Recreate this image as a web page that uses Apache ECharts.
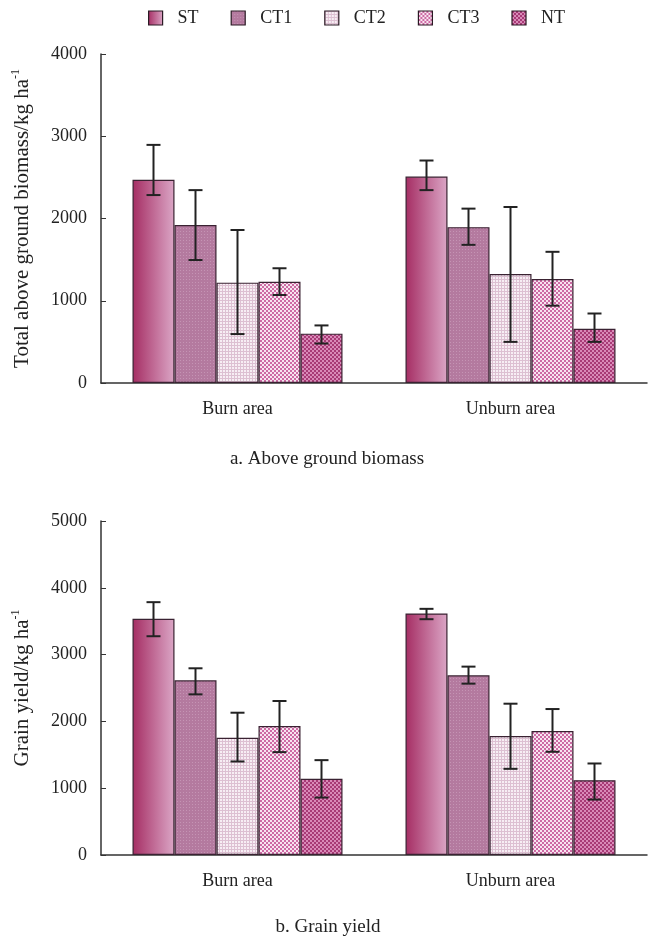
<!DOCTYPE html>
<html>
<head>
<meta charset="utf-8">
<script src="https://cdn.jsdelivr.net/npm/echarts@6/dist/echarts.min.js"></script>
<style>
  html, body { margin: 0; padding: 0; background: #fff; }
  #chart { width: 648px; height: 937px; }
</style>
</head>
<body>
<div id="chart"></div>
<script>
const categories = ['Burn area', 'Unburn area'];
const treatments = ['ST', 'CT1', 'CT2', 'CT3', 'NT'];

// a. above ground biomass, one row per treatment: [burn, unburn]
const bioMean = [[2470, 2510], [1920, 1895], [1220, 1325], [1230, 1265], [600, 660]];
const bioHigh = [[2895, 2705], [2345, 2120], [1860, 2140], [1395, 1595], [700, 845]];
const bioLow  = [[2285, 2345], [1495, 1680], [595, 500], [1070, 940], [480, 500]];

// b. grain yield
const grainMean = [[3535, 3615], [2615, 2690], [1755, 1780], [1930, 1855], [1140, 1120]];
const grainHigh = [[3785, 3685], [2795, 2820], [2130, 2265], [2305, 2185], [1420, 1370]];
const grainLow  = [[3275, 3530], [2405, 2565], [1400, 1290], [1540, 1545], [860, 830]];

const bioTicks = [0, 1000, 2000, 3000, 4000];
const grainTicks = [0, 1000, 2000, 3000, 4000, 5000];

const BAR_W = 42;
const FONT = '"Liberation Serif", "DejaVu Serif", serif';
const INK = '#222';

function pattern(size, draw) {
  const c = document.createElement('canvas');
  c.width = size; c.height = size;
  const g = c.getContext('2d');
  draw(g);
  return { image: c, repeat: 'repeat' };
}

const fills = [
  new echarts.graphic.LinearGradient(0, 0, 1, 0, [
    { offset: 0, color: '#a52d63' },
    { offset: 1, color: '#dba6c6' }
  ]),
  pattern(3, g => {
    g.fillStyle = '#b47a9f'; g.fillRect(0, 0, 3, 3);
    g.fillStyle = '#c594b4'; g.fillRect(0, 0, 1, 1);
  }),
  pattern(3, g => {
    g.fillStyle = '#f7eef4'; g.fillRect(0, 0, 3, 3);
    g.fillStyle = '#ddc0d2'; g.fillRect(0, 0, 3, 1); g.fillRect(0, 0, 1, 3);
  }),
  pattern(4, g => {
    g.fillStyle = '#f8e4f0'; g.fillRect(0, 0, 4, 4);
    g.fillStyle = '#cd6aa4'; g.fillRect(0, 0, 2, 2); g.fillRect(2, 2, 2, 2);
  }),
  pattern(4, g => {
    g.fillStyle = '#d98ab8'; g.fillRect(0, 0, 4, 4);
    g.fillStyle = '#a83a76'; g.fillRect(0, 0, 2, 2); g.fillRect(2, 2, 2, 2);
  })
];

function barSeries(means, gridIdx) {
  return treatments.map((name, i) => ({
    name: name,
    type: 'bar',
    xAxisIndex: gridIdx,
    yAxisIndex: gridIdx,
    barWidth: BAR_W,
    barGap: '0%',
    itemStyle: { color: fills[i], borderColor: '#3a2232', borderWidth: 1.2 },
    emphasis: { disabled: true },
    data: means[i]
  }));
}

function errorSeries(lows, highs, gridIdx) {
  const data = [];
  treatments.forEach((t, i) => {
    categories.forEach((c, j) => data.push([j, lows[i][j], highs[i][j], i]));
  });
  return {
    type: 'custom',
    xAxisIndex: gridIdx,
    yAxisIndex: gridIdx,
    z: 10,
    silent: true,
    encode: { x: 0, y: [1, 2] },
    renderItem: function (params, api) {
      const off = (api.value(3) - 2) * BAR_W;
      const lo = api.coord([api.value(0), api.value(1)]);
      const hi = api.coord([api.value(0), api.value(2)]);
      const x = lo[0] + off;
      const half = 7;
      const style = { stroke: INK, lineWidth: 2 };
      return {
        type: 'group',
        children: [
          { type: 'line', shape: { x1: x, y1: lo[1], x2: x, y2: hi[1] }, style: style },
          { type: 'line', shape: { x1: x - half, y1: lo[1], x2: x + half, y2: lo[1] }, style: style },
          { type: 'line', shape: { x1: x - half, y1: hi[1], x2: x + half, y2: hi[1] }, style: style }
        ]
      };
    },
    data: data
  };
}

function xAxis(gridIdx) {
  return {
    type: 'category',
    gridIndex: gridIdx,
    data: categories,
    axisLine: { lineStyle: { color: '#333', width: 1.5 } },
    axisTick: { inside: true, length: 5, lineStyle: { color: '#333' } },
    axisLabel: { color: INK, fontFamily: FONT, fontSize: 18, margin: 17 }
  };
}

function yAxis(gridIdx, ticks, name) {
  return {
    type: 'value',
    gridIndex: gridIdx,
    min: ticks[0],
    max: ticks[ticks.length - 1],
    interval: ticks[1] - ticks[0],
    name: name,
    nameLocation: 'middle',
    nameRotate: 90,
    nameGap: 66,
    nameTextStyle: {
      color: INK, fontFamily: FONT, fontSize: 21,
      rich: { sup: { fontFamily: FONT, fontSize: 12, color: INK, verticalAlign: 'top', lineHeight: 25 } }
    },
    splitLine: { show: false },
    axisLine: { show: true, lineStyle: { color: '#333', width: 1.5 } },
    axisTick: { show: true, inside: true, length: 5, lineStyle: { color: '#333' } },
    axisLabel: { color: INK, fontFamily: FONT, fontSize: 18, margin: 14, formatter: v => String(v) }
  };
}

const chart = echarts.init(document.getElementById('chart'), null, { renderer: 'canvas' });

chart.setOption({
  animation: false,
  backgroundColor: '#fff',
  title: [
    { text: 'a. Above ground biomass', left: 327, top: 450, textAlign: 'center', padding: 0,
      textStyle: { color: INK, fontFamily: FONT, fontSize: 19, fontWeight: 'normal' } },
    { text: 'b. Grain yield', left: 328, top: 918, textAlign: 'center', padding: 0,
      textStyle: { color: INK, fontFamily: FONT, fontSize: 19, fontWeight: 'normal' } }
  ],
  legend: {
    data: treatments,
    icon: 'rect',
    left: 148,
    top: 9,
    padding: 0,
    itemWidth: 14,
    itemHeight: 14,
    itemGap: 32,
    itemStyle: { borderColor: '#2a1a24', borderWidth: 1.2 },
    textStyle: { color: INK, fontFamily: FONT, fontSize: 18, padding: [0, 0, 0, 10] }
  },
  grid: [
    { left: 101, right: 1, top: 54, height: 329 },
    { left: 101, right: 1, top: 521, height: 334 }
  ],
  xAxis: [xAxis(0), xAxis(1)],
  yAxis: [
    yAxis(0, bioTicks, 'Total above ground biomass/kg ha{sup|-1}'),
    yAxis(1, grainTicks, 'Grain yield/kg ha{sup|-1}')
  ],
  series: [
    ...barSeries(bioMean, 0),
    errorSeries(bioLow, bioHigh, 0),
    ...barSeries(grainMean, 1),
    errorSeries(grainLow, grainHigh, 1)
  ]
});
</script>
</body>
</html>
